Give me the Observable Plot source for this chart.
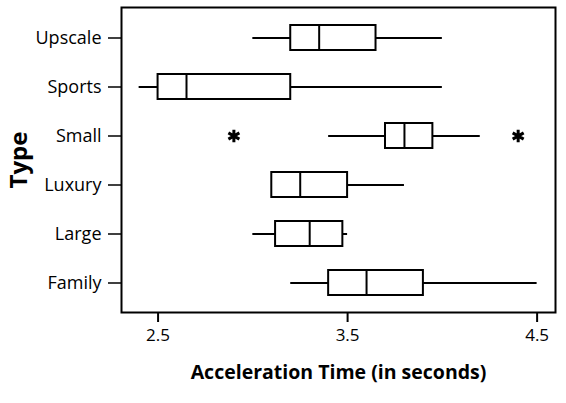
<!DOCTYPE html>
<html>
<head>
<meta charset="utf-8">
<script src="https://cdn.jsdelivr.net/npm/d3@7"></script>
<script src="https://cdn.jsdelivr.net/npm/@observablehq/plot@0.6"></script>
<style>
  body { margin: 0; background: #fff; }
  #chart-display svg { font-family: "Open Sans", Lato, sans-serif; }
  #chart-display g[aria-label="x-axis label"] text { font-weight: bold; font-size: 19.5px; }
  #chart-display g[aria-label="y-axis label"] text { font-weight: bold; font-size: 24px; }
</style>
</head>
<body>
<div id="chart-display"></div>
<script>
// car types, top to bottom
const types = ["Upscale", "Sports", "Small", "Luxury", "Large", "Family"]
const lows = [3.0, 2.4, 3.4, 3.1, 3.0, 3.2]
const q1s = [3.2, 2.5, 3.7, 3.1, 3.12, 3.4]
const medians = [3.35, 2.65, 3.8, 3.25, 3.3, 3.6]
const q3s = [3.65, 3.2, 3.95, 3.5, 3.475, 3.9]
const highs = [4.0, 4.0, 4.2, 3.8, 3.5, 4.5]
// outliers
const outType = ["Small", "Small"]
const outValue = [2.9, 4.4]
const xTicks = [2.5, 3.5, 4.5]

window.onload = () => {
  let boxes = types.map((t, i) => ({
    type: t, lo: lows[i], q1: q1s[i], med: medians[i], q3: q3s[i], hi: highs[i]
  }))
  let outliers = outType.map((t, i) => ({type: t, value: outValue[i]}))

  const plot = Plot.plot({
    width: 566,
    height: 403,
    marginLeft: 121,
    marginRight: 11,
    marginTop: 7,
    marginBottom: 91,
    style: {fontSize: "17px", color: "#000"},
    x: {domain: [2.307, 4.597]},
    y: {type: "band", domain: types, paddingInner: 0.5, paddingOuter: 0.35},
    marks: [
      Plot.ruleY(boxes, {y: "type", x1: "lo", x2: "q1", strokeWidth: 2}),
      Plot.ruleY(boxes, {y: "type", x1: "q3", x2: "hi", strokeWidth: 2}),
      Plot.barX(boxes, {y: "type", x1: "q1", x2: "q3", fill: "white", stroke: "black", strokeWidth: 2}),
      Plot.tickX(boxes, {y: "type", x: "med", strokeWidth: 2}),
      Plot.dot(outliers, {y: "type", x: "value", symbol: "asterisk", r: 6, stroke: "black", strokeWidth: 3}),
      Plot.frame({stroke: "black", strokeWidth: 2}),
      Plot.axisY({fontSize: 18, tickSize: 13, tickPadding: 7, strokeWidth: 1.5, label: "Type", labelAnchor: "center", labelArrow: "none", labelOffset: 112}),
      Plot.axisX({fontSize: 17, ticks: xTicks, tickFormat: ".1f", tickSize: 10, tickPadding: 6, strokeWidth: 2, label: "Acceleration Time (in seconds)", labelAnchor: "center", labelArrow: "none", labelOffset: 66})
    ]
  })

  document.querySelector("#chart-display").append(plot)
}
</script>
</body>
</html>
